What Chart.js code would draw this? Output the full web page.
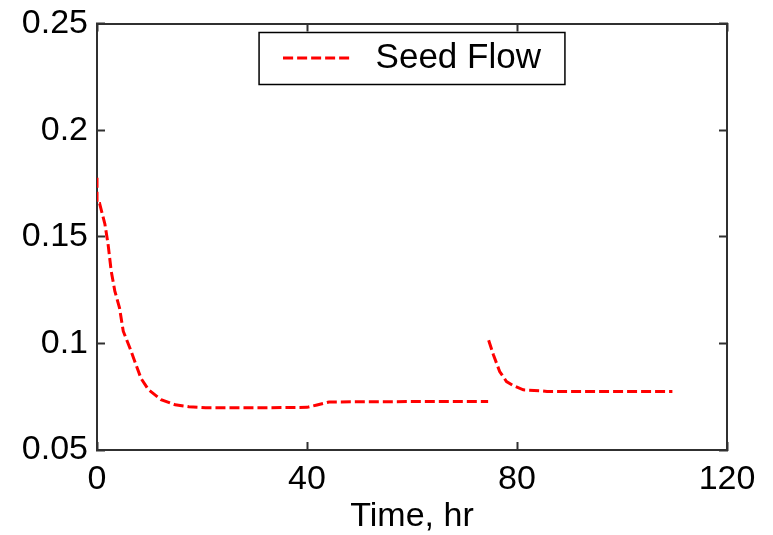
<!DOCTYPE html>
<html>
<head>
<meta charset="utf-8">
<script src="https://cdn.jsdelivr.net/npm/chart.js@4"></script>
<style>
  html, body { margin: 0; padding: 0; background: #fff; }
  #wrap { width: 773px; height: 535px; }
</style>
</head>
<body>
<div id="wrap"><canvas id="chart"></canvas></div>
<script>
// Seed flow vs. time (null = break in the line)
const timeHr = [0, 0, 0.5, 1.5, 2.1, 2.7, 3.4, 4.3, 5.0, 6.3, 7.2, 8.4, 9.8, 12.2, 14.9, 17.5, 20.7, 30, 40, 41.9, 44.2, 50, 60, 74.5,
    74.55,
    74.6, 75.5, 76.7, 78.0, 79.3, 81.2, 84.4, 85.7, 90, 100, 109.6];
const seedFlow = [0.1777, 0.1656, 0.1656, 0.156, 0.1467, 0.134, 0.1245, 0.1165, 0.1057, 0.0976, 0.0915, 0.0835, 0.0783, 0.0736, 0.0712, 0.0703, 0.0698, 0.0698, 0.0700, 0.0711, 0.0725, 0.0726, 0.0727, 0.0727,
    null,
    0.1015, 0.0947, 0.0868, 0.0821, 0.0802, 0.0782, 0.0778, 0.0774, 0.0774, 0.0774, 0.0774];

const xTicks = [0, 40, 80, 120];
const yTicks = [0.05, 0.1, 0.15, 0.2, 0.25];
const yTickLabels = ['0.05', '0.1', '0.15', '0.2', '0.25'];

const red = '#ff0000';
const axisColor = '#303030';
const font = { family: '"Liberation Sans", Arial, sans-serif', size: 34 };

// legend swatch: dashed line plus a little blank space before the text
const swatch = document.createElement('canvas');
swatch.width = 75;
swatch.height = 6;
const sctx = swatch.getContext('2d');
sctx.strokeStyle = red;
sctx.lineWidth = 3;
sctx.setLineDash([10, 4]);
sctx.beginPath();
sctx.moveTo(0, 3);
sctx.lineTo(66, 3);
sctx.stroke();

// legend sits inside the plot: it takes no room in the layout, boxed like matlab
const legendInside = {
    id: 'legendInside',
    beforeLayout(chart) {
        const legend = chart.legend;
        if (!legend || legend._patched) return;
        const fit = legend.fit;
        legend.fit = function () {
            fit.call(this);
            this._realHeight = this.height;
            this.height = 0;
        };
        legend._patched = true;
    },
    afterLayout(chart) {
        const legend = chart.legend;
        if (!legend || !legend._realHeight) return;
        legend.height = legend._realHeight;
        legend.bottom = legend.top + legend._realHeight;
    },
    afterDraw(chart) {
        const hit = chart.legend.legendHitBoxes[0];
        if (!hit) return;
        const ctx = chart.ctx;
        ctx.save();
        ctx.strokeStyle = '#000';
        ctx.lineWidth = 1.5;
        ctx.strokeRect(hit.left - 24, hit.top - 8, hit.width + 48, hit.height + 17);
        ctx.restore();
    }
};

function tickAxis(position, min, max, step) {
    return {
        type: 'linear',
        position: position,
        min: min,
        max: max,
        ticks: { display: false, stepSize: step },
        grid: { drawOnChartArea: false, drawTicks: true, tickLength: -8, tickWidth: 2, tickColor: axisColor },
        border: { color: axisColor, width: 2 }
    };
}

const xTop = tickAxis('top', 0, 120, 40);
xTop.afterFit = s => { s.height = 23.5; s.paddingLeft = 0; s.paddingRight = 0; };
const yRight = tickAxis('right', 0.05, 0.25, 0.05);
yRight.afterFit = s => { s.width = 46; s.paddingTop = 0; s.paddingBottom = 0; };

new Chart(document.getElementById('chart'), {
    type: 'line',
    data: {
        datasets: [{
            label: 'Seed Flow',
            data: timeHr.map((t, i) => ({ x: t, y: seedFlow[i] })),
            borderColor: red,
            borderWidth: 3,
            borderDash: [10, 4],
            pointRadius: 0,
            tension: 0,
            spanGaps: false
        }]
    },
    options: {
        responsive: true,
        maintainAspectRatio: false,
        animation: false,
        layout: { padding: 0 },
        plugins: {
            legend: {
                position: 'top',
                fullSize: false,
                align: 'center',
                labels: {
                    color: '#000',
                    font: { family: font.family, size: 35 },
                    usePointStyle: true,
                    pointStyle: swatch,
                    pointStyleWidth: 75,
                    padding: 40.5
                }
            },
            tooltip: { enabled: false }
        },
        scales: {
            x: {
                type: 'linear',
                min: 0,
                max: 120,
                afterBuildTicks: s => { s.ticks = xTicks.map(v => ({ value: v })); },
                afterFit: s => { s.height = 85; s.paddingLeft = 0; s.paddingRight = 0; },
                ticks: { color: '#000', font: font, padding: 17, maxRotation: 0 },
                grid: { drawOnChartArea: false, tickLength: -8, tickWidth: 2, tickColor: axisColor },
                border: { color: axisColor, width: 2 },
                title: {
                    display: true,
                    text: 'Time, hr',
                    color: '#000',
                    font: font,
                    padding: { top: 0, bottom: -2 }
                }
            },
            y: {
                type: 'linear',
                min: 0.05,
                max: 0.25,
                afterBuildTicks: s => { s.ticks = yTicks.map(v => ({ value: v })); },
                afterFit: s => { s.width = 97; s.paddingTop = 0; s.paddingBottom = 0; },
                ticks: {
                    color: '#000',
                    font: font,
                    padding: 17,
                    callback: (v) => yTickLabels[yTicks.indexOf(v)]
                },
                grid: { drawOnChartArea: false, tickLength: -8, tickWidth: 2, tickColor: axisColor },
                border: { color: axisColor, width: 2 }
            },
            xTop: xTop,
            yRight: yRight
        }
    },
    plugins: [legendInside]
});
</script>
</body>
</html>
